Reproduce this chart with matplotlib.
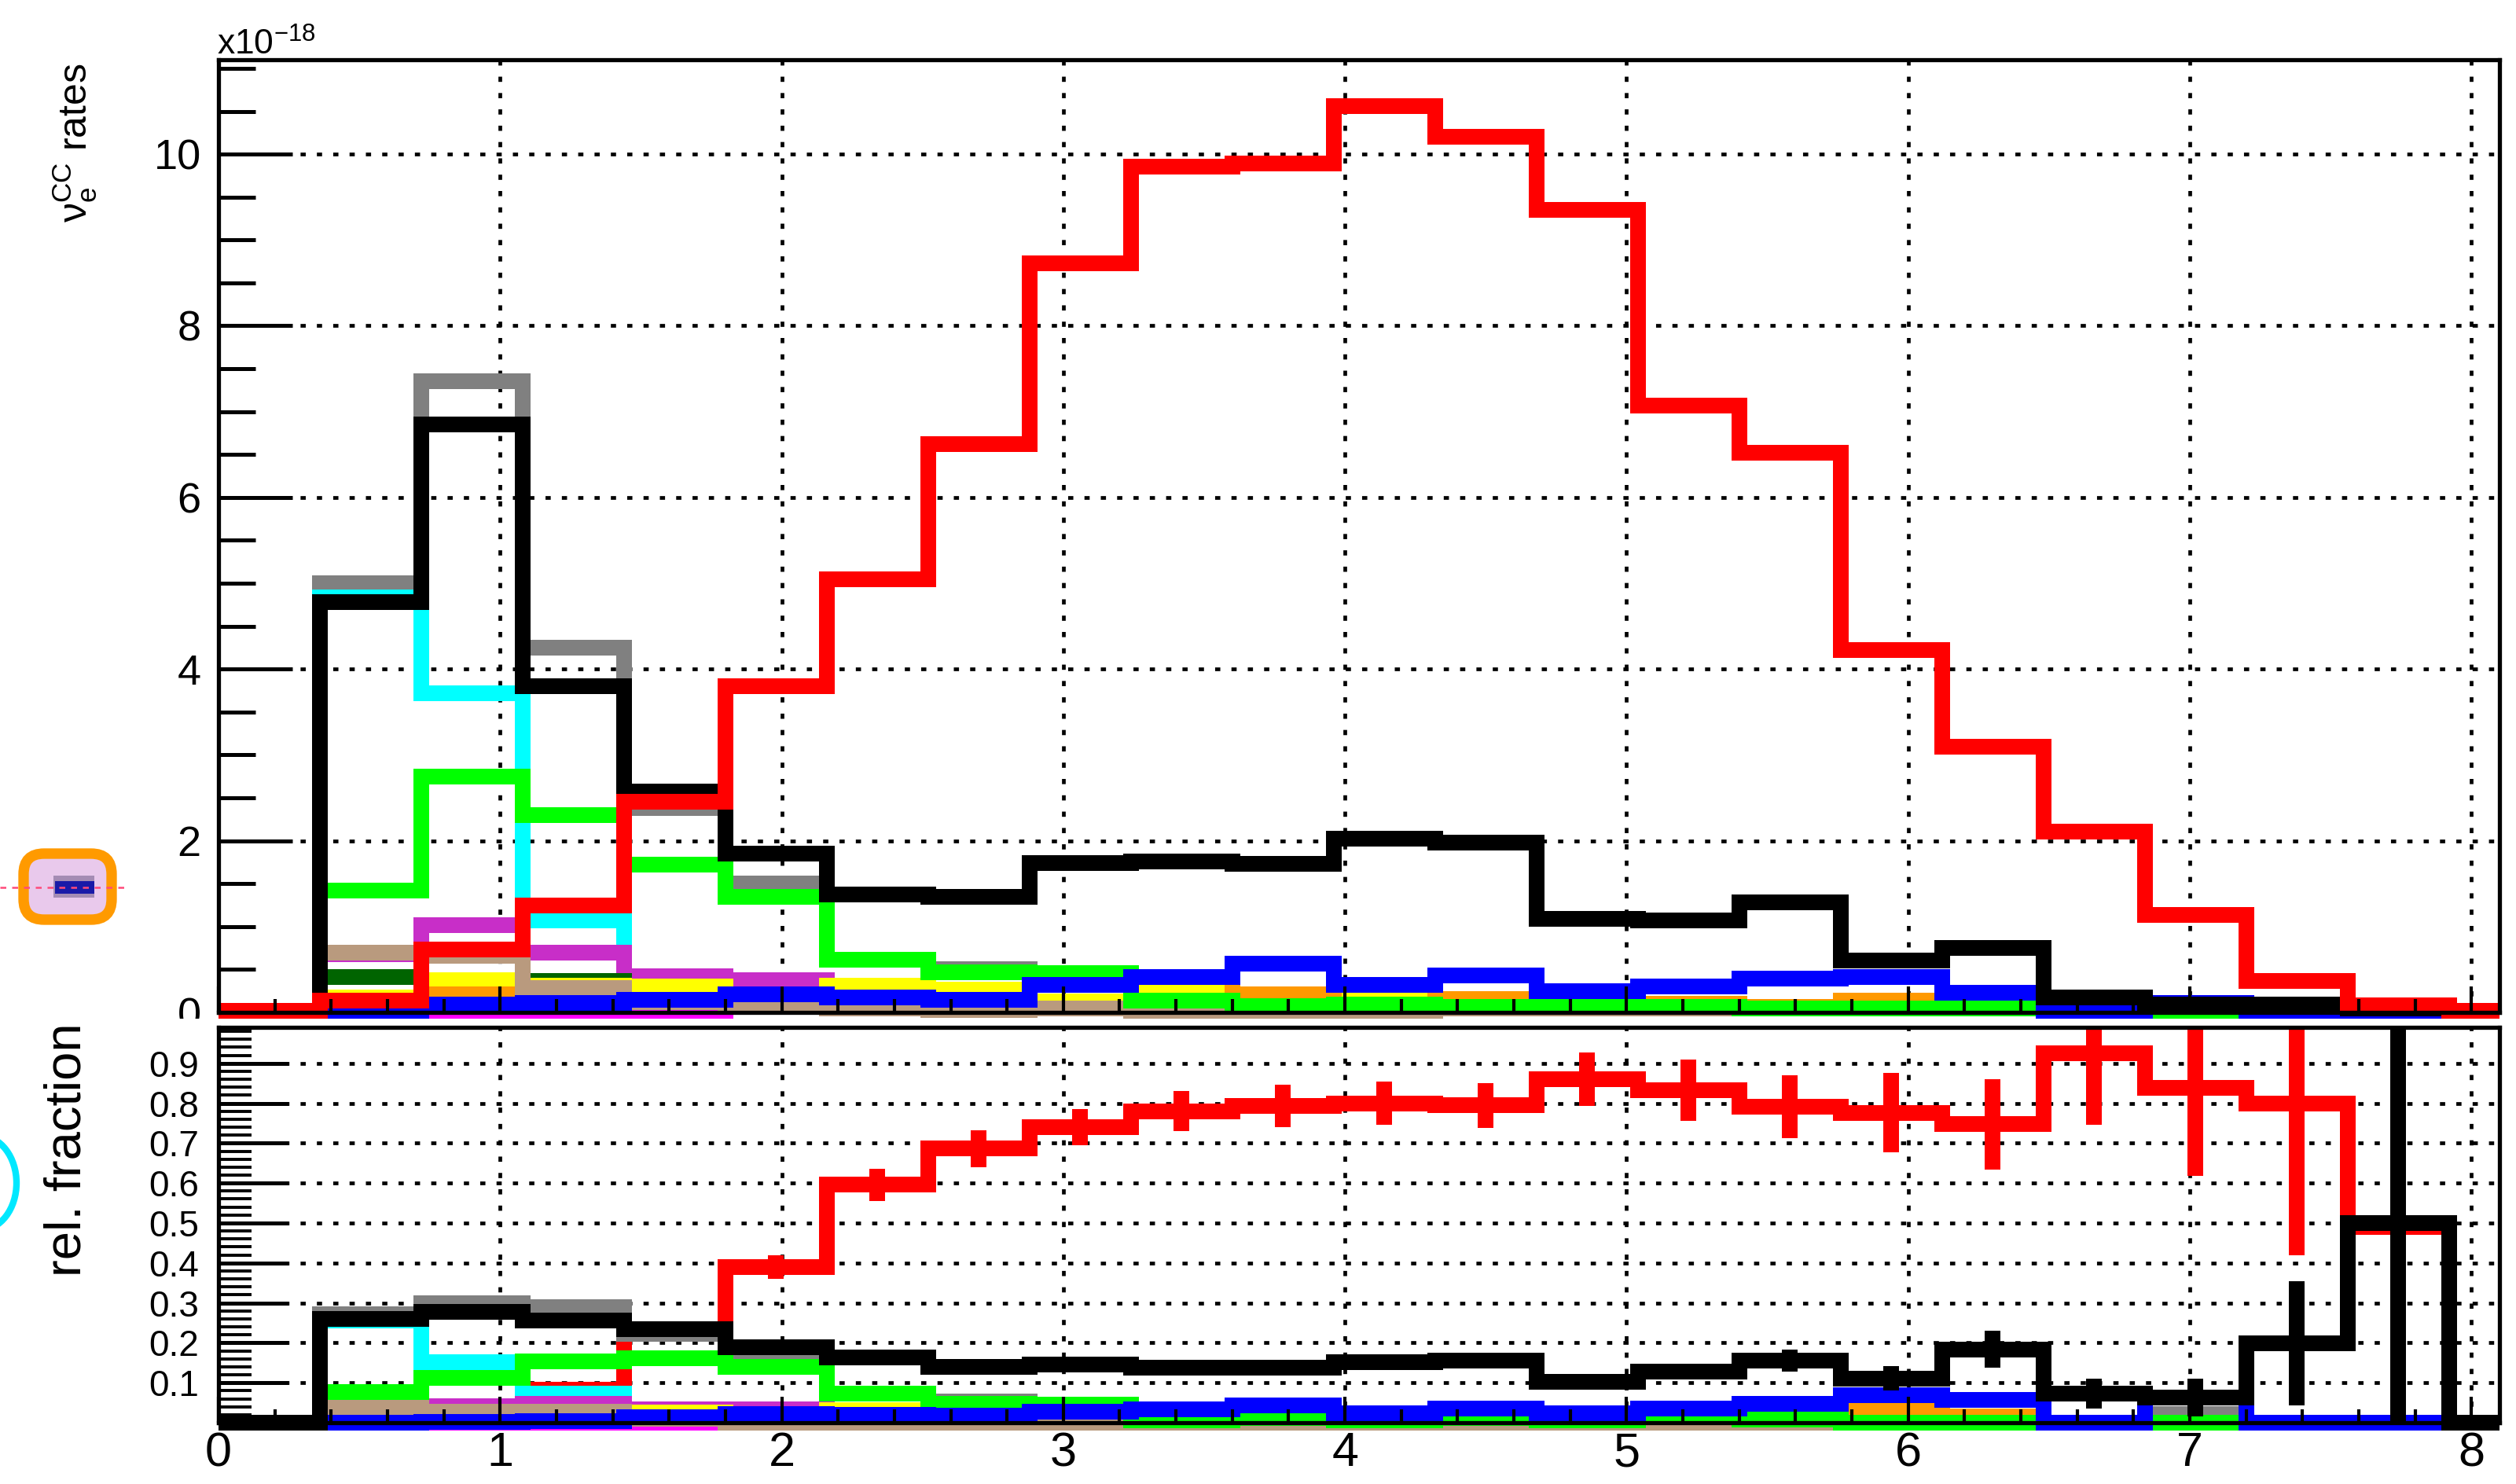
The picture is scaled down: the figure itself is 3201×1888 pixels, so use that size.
import numpy as np
import matplotlib
matplotlib.use("Agg")
import matplotlib.pyplot as plt
from matplotlib import patches
from matplotlib.ticker import MultipleLocator, FuncFormatter, NullFormatter

plt.rcParams['font.family'] = ['Liberation Sans', 'DejaVu Sans']
plt.rcParams['mathtext.fontset'] = 'custom'
plt.rcParams['mathtext.rm'] = 'Liberation Sans'
plt.rcParams['mathtext.it'] = 'Liberation Sans:italic'
plt.rcParams['mathtext.bf'] = 'Liberation Sans:bold'

# binning: 0.36 wide bins starting at 0, frame ends at 8.1
bin_width = 0.36
n_bins = 23
x_max = 8.1

# nu_e CC rates per channel (x 1e-18)
rate_red = [0.02, 0.14, 0.73, 1.25, 2.45, 3.80, 5.05, 6.62, 8.73, 9.85, 9.89, 10.56,
            10.20, 9.35, 7.07, 6.52, 4.22, 3.10, 2.11, 1.14, 0.37, 0.08, 0.02]
rate_black = [0.0, 4.78, 6.85, 3.80, 2.57, 1.85, 1.37, 1.345, 1.74, 1.755, 1.73, 2.02,
              1.98, 1.09, 1.07, 1.28, 0.60, 0.75, 0.17, 0.09, 0.09, 0.05, 0.0]
rate_gray = [0.0, 5.00, 7.35, 4.25, 2.38, 1.50, 0.61, 0.50, 0.46, 0.14, 0.07, 0.09,
             0.06, 0.08, 0.06, 0.05, 0.05, 0.05, 0.0, 0.0, 0.0, 0.0, 0.0]
rate_cyan = [0.0, 4.84, 3.72, 1.07, 0.42, 0.38, 0.31, 0.27, 0.32, 0.41, 0.565, 0.325,
             0.435, 0.25, 0.30, 0.39, 0.41, 0.23, 0.0, 0.11, 0.0, 0.0, 0.0]
rate_purple = [0.0, 0.68, 1.02, 0.70, 0.42, 0.38, 0.31, 0.27, 0.32, 0.41, 0.565, 0.325,
               0.435, 0.25, 0.30, 0.39, 0.41, 0.23, 0.0, 0.11, 0.0, 0.0, 0.0]
rate_dkgreen = [0.0, 0.41, 0.35, 0.37, 0.30, 0.21, 0.17, 0.15, 0.32, 0.41, 0.565, 0.325,
                0.435, 0.25, 0.30, 0.39, 0.41, 0.23, 0.0, 0.11, 0.0, 0.0, 0.0]
rate_yellow = [0.0, 0.17, 0.38, 0.31, 0.30, 0.21, 0.31, 0.27, 0.13, 0.25, 0.21, 0.18,
               0.12, 0.10, 0.30, 0.39, 0.41, 0.23, 0.0, 0.11, 0.0, 0.0, 0.0]
rate_orange = [0.0, 0.14, 0.21, 0.18, 0.15, 0.21, 0.17, 0.15, 0.32, 0.41, 0.21, 0.09,
               0.16, 0.12, 0.10, 0.06, 0.14, 0.10, 0.0, 0.11, 0.0, 0.0, 0.0]
rate_magenta = [0.0, 0.0, 0.0, 0.0, 0.0, 0.09, 0.05, 0.03, 0.05, 0.02, 0.02, 0.0,
                0.05, 0.05, 0.05, 0.05, 0.05, 0.05, 0.0, 0.0, 0.0, 0.0, 0.0]
rate_tan = [0.0, 0.70, 0.66, 0.28, 0.12, 0.09, 0.05, 0.03, 0.05, 0.02, 0.02, 0.0,
            0.05, 0.05, 0.05, 0.05, 0.05, 0.05, 0.0, 0.0, 0.0, 0.0, 0.0]
rate_green = [0.0, 1.42, 2.75, 2.30, 1.72, 1.35, 0.61, 0.465, 0.46, 0.14, 0.07, 0.09,
              0.06, 0.08, 0.06, 0.05, 0.05, 0.05, 0.0, 0.0, 0.0, 0.0, 0.0]
rate_blue = [0.0, 0.0, 0.09, 0.11, 0.15, 0.21, 0.17, 0.15, 0.32, 0.41, 0.565, 0.325,
             0.435, 0.25, 0.30, 0.39, 0.41, 0.23, 0.0, 0.11, 0.0, 0.0, 0.0]

# relative fractions
frac_red = [0.0, 0.008, 0.03, 0.083, 0.222, 0.39, 0.596, 0.686, 0.74, 0.78, 0.793, 0.80,
            0.795, 0.861, 0.833, 0.791, 0.776, 0.747, 0.925, 0.838, 0.80, 0.49, 0.0]
err_red = [0.0, 0.002, 0.004, 0.006, 0.012, 0.03, 0.04, 0.047, 0.046, 0.05, 0.053, 0.054,
           0.056, 0.067, 0.077, 0.079, 0.099, 0.113, 0.18, 0.22, 0.38, 0.0, 0.0]
frac_black = [0.0, 0.259, 0.277, 0.256, 0.234, 0.189, 0.163, 0.140, 0.146, 0.138, 0.138, 0.152,
              0.155, 0.102, 0.128, 0.156, 0.111, 0.184, 0.073, 0.063, 0.199, 0.499, 0.0]
err_black = [0.0, 0.004, 0.004, 0.005, 0.006, 0.006, 0.007, 0.007, 0.007, 0.008, 0.008, 0.008,
             0.009, 0.012, 0.02, 0.028, 0.03, 0.047, 0.038, 0.047, 0.155, 0.5, 0.0]
frac_gray = [0.0, 0.271, 0.299, 0.289, 0.222, 0.18, 0.072, 0.053, 0.045, 0.005, 0.012, 0.005,
             0.012, 0.005, 0.015, 0.008, 0.0, 0.0, 0.0, 0.022, 0.0, 0.0, 0.0]
frac_cyan = [0.0, 0.255, 0.152, 0.073, 0.014, 0.022, 0.02, 0.018, 0.027, 0.033, 0.044, 0.024,
             0.035, 0.024, 0.035, 0.047, 0.068, 0.058, 0.0, 0.063, 0.0, 0.0, 0.0]
frac_purple = [0.0, 0.035, 0.042, 0.047, 0.034, 0.033, 0.02, 0.018, 0.027, 0.033, 0.044, 0.024,
               0.035, 0.024, 0.035, 0.047, 0.068, 0.058, 0.0, 0.063, 0.0, 0.0, 0.0]
frac_dkgreen = [0.0, 0.03, 0.027, 0.027, 0.014, 0.022, 0.02, 0.018, 0.027, 0.033, 0.044, 0.024,
                0.035, 0.024, 0.035, 0.047, 0.068, 0.058, 0.0, 0.063, 0.0, 0.0, 0.0]
frac_yellow = [0.0, 0.02, 0.02, 0.027, 0.026, 0.022, 0.031, 0.018, 0.027, 0.033, 0.044, 0.024,
               0.035, 0.024, 0.035, 0.047, 0.068, 0.058, 0.0, 0.063, 0.0, 0.0, 0.0]
frac_orange = [0.0, 0.0, 0.001, 0.003, 0.014, 0.022, 0.02, 0.018, 0.027, 0.033, 0.044, 0.024,
               0.035, 0.024, 0.035, 0.012, 0.03, 0.015, 0.0, 0.063, 0.0, 0.0, 0.0]
frac_magenta = [0.0] * 23
frac_tan = [0.0, 0.037, 0.027, 0.027, 0.01, 0.0, 0.0, 0.0, 0.0, 0.0, 0.0, 0.0,
            0.0, 0.0, 0.0, 0.0, 0.0, 0.0, 0.0, 0.0, 0.0, 0.0, 0.0]
frac_green = [0.0, 0.077, 0.112, 0.154, 0.161, 0.139, 0.072, 0.047, 0.045, 0.005, 0.012, 0.005,
              0.012, 0.005, 0.015, 0.008, 0.0, 0.0, 0.0, 0.0, 0.0, 0.0, 0.0]
frac_blue = [0.0, 0.0, 0.001, 0.003, 0.014, 0.022, 0.02, 0.018, 0.027, 0.033, 0.044, 0.024,
             0.035, 0.024, 0.035, 0.047, 0.068, 0.058, 0.0, 0.063, 0.0, 0.0, 0.0]

colors = {
    'red': '#ff0000', 'black': '#000000', 'gray': '#808080', 'cyan': '#00ffff',
    'purple': '#c82ec8', 'dkgreen': '#006400', 'yellow': '#ffff00', 'orange': '#ff9900',
    'magenta': '#ff00ff', 'tan': '#b99a7e', 'green': '#00ff00', 'blue': '#0000ff',
}

top_series = [('gray', rate_gray), ('cyan', rate_cyan), ('purple', rate_purple),
              ('dkgreen', rate_dkgreen), ('yellow', rate_yellow), ('orange', rate_orange),
              ('magenta', rate_magenta), ('tan', rate_tan), ('green', rate_green),
              ('blue', rate_blue), ('black', rate_black), ('red', rate_red)]
bottom_series = [('red', frac_red), ('gray', frac_gray), ('cyan', frac_cyan),
                 ('purple', frac_purple), ('dkgreen', frac_dkgreen), ('yellow', frac_yellow),
                 ('orange', frac_orange), ('magenta', frac_magenta), ('tan', frac_tan),
                 ('green', frac_green), ('blue', frac_blue), ('black', frac_black)]

W, H, DPI = 3201, 1888, 200
LW = 7.2           # histogram line width, pt
edges = np.minimum(np.arange(n_bins + 1) * bin_width, x_max)
centers = 0.5 * (edges[:-1] + edges[1:])

fig = plt.figure(figsize=(W / DPI, H / DPI), dpi=DPI)
ax_top = fig.add_axes([278 / W, 1 - 1288 / H, 2902 / W, 1212 / H], zorder=0)
ax_bot = fig.add_axes([278 / W, 1 - 1810 / H, 2902 / W, 503 / H], zorder=2)

# white lower pad hides what hangs below the upper frame
fig.patches.append(patches.Rectangle((0, 0), 1, 1 - 1296 / H, transform=fig.transFigure,
                                     facecolor='white', edgecolor='none', zorder=1))

grid_kw = dict(color='black', lw=1.7, linestyle=(0, (1.4, 3.0)), zorder=1)


def draw_step(ax, vals, color, z, clip):
    xs = np.repeat(edges, 2)[1:-1]
    ys = np.repeat(np.asarray(vals, float), 2)
    ln, = ax.plot(xs, ys, color=color, lw=LW, solid_joinstyle='miter',
                  solid_capstyle='butt', zorder=z)
    ln.set_clip_path(clip)
    return ln


def draw_err(ax, vals, errs, color, z, clip):
    v = np.asarray(vals, float)
    e = np.asarray(errs, float)
    lc = ax.vlines(centers[e > 0], (v - e)[e > 0], (v + e)[e > 0], colors=color,
                   lw=LW, zorder=z)
    lc.set_capstyle('butt')
    lc.set_clip_path(clip)


# ---- upper pad: rates ----
ax = ax_top
clip_top = patches.Rectangle((0, -0.02), 1, 1.02, transform=ax.transAxes)
for i, (name, vals) in enumerate(top_series):
    draw_step(ax, vals, colors[name], 2 + i * 0.01, clip_top)
for g in range(2, 11, 2):
    ax.axhline(g, **grid_kw)
for g in range(1, 9):
    ax.axvline(g, **grid_kw)
ax.set_xlim(0, x_max)
ax.set_ylim(0, 11.1)
ax.yaxis.set_major_locator(MultipleLocator(2))
ax.yaxis.set_minor_locator(MultipleLocator(0.5))
ax.yaxis.set_major_formatter(FuncFormatter(lambda v, p: f'{v:.0f}'))
ax.xaxis.set_major_locator(MultipleLocator(1))
ax.xaxis.set_minor_locator(MultipleLocator(0.2))
ax.xaxis.set_major_formatter(NullFormatter())
ax.tick_params(axis='y', which='major', direction='in', length=34, width=1.8,
               labelsize=19.5, pad=8)
ax.tick_params(axis='y', which='minor', direction='in', length=17, width=1.8)
ax.tick_params(axis='x', which='major', direction='in', length=12, width=1.5)
ax.tick_params(axis='x', which='minor', direction='in', length=6, width=1.5)
ax.set_axisbelow(False)
for sp in ax.spines.values():
    sp.set_linewidth(1.9)
    sp.set_zorder(3)

# ---- lower pad: relative fractions ----
ax = ax_bot
clip_bot = patches.Rectangle((0, -0.05), 1, 1.05, transform=ax.transAxes)
for i, (name, vals) in enumerate(bottom_series):
    z = 2 + i * 0.01
    draw_step(ax, vals, colors[name], z, clip_bot)
    if name == 'red':
        draw_err(ax, frac_red, err_red, colors['red'], z, clip_bot)
    if name == 'black':
        draw_err(ax, frac_black, err_black, colors['black'], z, clip_bot)
for g in np.arange(1, 10) / 10:
    ax.axhline(g, **grid_kw)
for g in range(1, 9):
    ax.axvline(g, **grid_kw)
ax.set_xlim(0, x_max)
ax.set_ylim(0, 0.99)
ax.yaxis.set_major_locator(MultipleLocator(0.1))
ax.yaxis.set_minor_locator(MultipleLocator(0.02))
ax.yaxis.set_major_formatter(FuncFormatter(lambda v, p: '' if v < 0.05 or v > 0.95 else f'{v:.1f}'))
ax.xaxis.set_major_locator(MultipleLocator(1))
ax.xaxis.set_minor_locator(MultipleLocator(0.2))
ax.xaxis.set_major_formatter(FuncFormatter(lambda v, p: f'{v:.0f}'))
ax.tick_params(axis='y', which='major', direction='in', length=32, width=1.8,
               labelsize=16.5, pad=9)
ax.tick_params(axis='y', which='minor', direction='in', length=15, width=1.4)
ax.tick_params(axis='x', which='major', direction='in', length=12, width=1.5,
               labelsize=22, pad=4)
ax.tick_params(axis='x', which='minor', direction='in', length=6, width=1.5)
ax.set_axisbelow(False)
for sp in ax.spines.values():
    sp.set_linewidth(1.9)
    sp.set_zorder(3)

# ---- axis titles ----
fig.text(276 / W, 1 - 70 / H, r'x10$^{-18}$', fontsize=16, ha='left', va='baseline')
fig.text(95 / W, 1 - 182 / H, r'$\mathregular{\nu_{e}^{CC}}$ rates', fontsize=18,
         rotation=90, ha='center', va='center')
fig.text(86 / W, 1 - 1463 / H, 'rel. fraction', fontsize=23.5, rotation=90,
         ha='center', va='center')

# ---- small overlay marks at the left edge ----
px = fig.dpi_scale_trans


def inch(x, y):
    return (x / DPI, (H - y) / DPI)


fig.patches.append(patches.FancyBboxPatch(inch(30, 1170), 112 / DPI, 84 / DPI,
                                          boxstyle='round,pad=0,rounding_size=0.13',
                                          transform=px, facecolor='#e9c9ec',
                                          edgecolor='#ff9a00', lw=4.8, zorder=5))
fig.patches.append(patches.Rectangle(inch(68, 1142), 52 / DPI, 28 / DPI, transform=px,
                                     facecolor='#a58cb4', edgecolor='none', zorder=6))
fig.patches.append(patches.Rectangle(inch(70, 1137), 50 / DPI, 16 / DPI, transform=px,
                                     facecolor='#1a1aa8', edgecolor='none', zorder=7))
fig.lines.append(plt.Line2D([0, 160 / W], [1 - 1129 / H, 1 - 1129 / H],
                            transform=fig.transFigure, color='#ff4a7a', lw=0.9,
                            linestyle=(0, (3, 3)), zorder=8))
fig.patches.append(patches.Ellipse(inch(-25, 1505), 92 / DPI, 120 / DPI, transform=px,
                                   fill=False, edgecolor='#00e8ff', lw=3, zorder=5))

fig.savefig('out.png', dpi=DPI)
